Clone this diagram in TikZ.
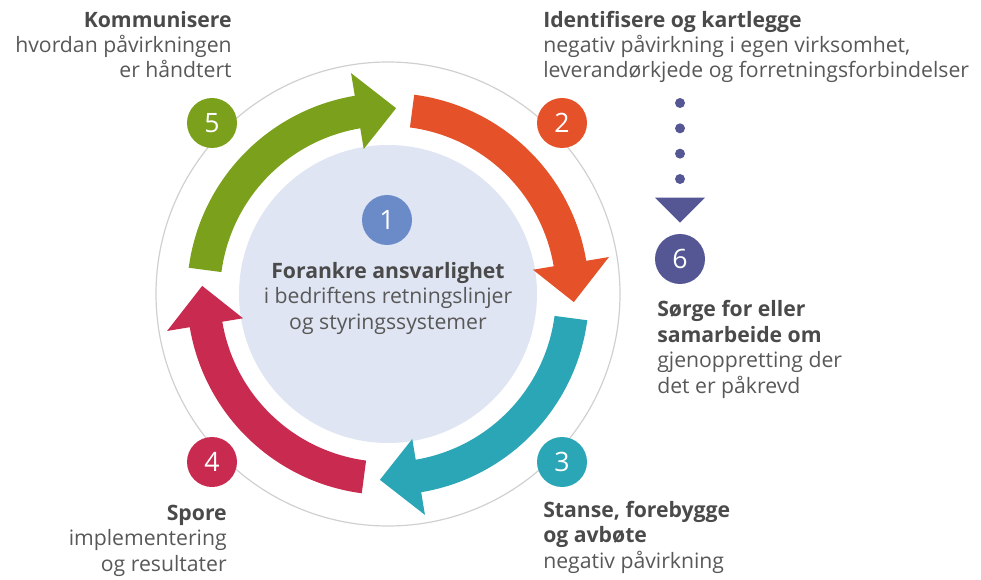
\documentclass[tikz,border=0pt]{standalone}
\usepackage{fontspec}
\setmainfont{Open Sans}

\definecolor{stepgreen}{HTML}{7BA11C}
\definecolor{steporange}{HTML}{E5522A}
\definecolor{stepteal}{HTML}{2AA6B6}
\definecolor{stepred}{HTML}{C92A50}
\definecolor{stepblue}{HTML}{6A8BC8}
\definecolor{steppurple}{HTML}{545793}
\definecolor{corefill}{HTML}{DFE5F2}
\definecolor{ringgray}{HTML}{D0D0D0}
\definecolor{textgray}{HTML}{585858}
\definecolor{headgray}{HTML}{4A4A4A}

\newcommand{\stephead}[1]{{\bfseries\color{headgray}#1}}
% one curved arrow of the cycle: colour, angle of its tail
\newcommand{\cyclearrow}[2]{%
  \fill[#1] (#2:201) arc[start angle=#2, end angle=#2-73, radius=201]
    -- (#2-73:224) -- (#2-85:186) -- (#2-73:147) -- (#2-73:168)
    arc[start angle=#2-73, end angle=#2, radius=168] -- cycle;
}

\tikzset{
  badge/.style={circle, fill=#1, minimum size=37.5pt, inner sep=0pt,
    text=white, font=\fontsize{20}{20}\selectfont},
  steptext/.style={text=textgray, inner sep=0pt,
    font=\fontsize{15.9}{19.1}\selectfont},
}

\begin{document}
\begin{tikzpicture}[x=0.75pt, y=0.75pt]
    \useasboundingbox (0,0) rectangle (981,579);
    \coordinate (c) at (388,285);

    % ring and core
    \draw[ringgray, line width=0.9pt] (c) circle[radius=232];
    \fill[corefill] (c) circle[radius=149];

    % the four arrows
    \begin{scope}[shift={(c)}]
        \cyclearrow{stepgreen}{172.5}
        \cyclearrow{steporange}{82.5}
        \cyclearrow{stepteal}{-7.5}
        \cyclearrow{stepred}{-97.5}
    \end{scope}

    % numbered badges
    \node[badge=stepblue] (n1) at (387,359) {1};
    \node[badge=steporange] (n2) at (562,456) {2};
    \node[badge=stepteal] (n3) at (562,117) {3};
    \node[badge=stepred] (n4) at (212,117) {4};
    \node[badge=stepgreen] (n5) at (212,456) {5};
    \node[badge=steppurple] (n6) at (680,320) {6};

    % texts (base = baseline of the last line)
    \node[steptext, anchor=base, align=center] (t1) at (388,250)
        {\stephead{Forankre ansvarlighet}\\i bedriftens retningslinjer\\og styringssystemer};
    \node[steptext, anchor=base west, align=left] (t2) at (543,501)
        {\stephead{Identifisere og kartlegge}\\negativ påvirkning i egen virksomhet,\\leverandørkjede og forretningsforbindelser};
    \node[steptext, anchor=base west, align=left] (t3) at (543,11)
        {\stephead{Stanse, forebygge}\\\stephead{og avbøte}\\negativ påvirkning};
    \node[steptext, anchor=base east, align=right] (t4) at (227,8)
        {\stephead{Spore}\\implementering\\og resultater};
    \node[steptext, anchor=base east, align=right] (t5) at (232,501)
        {\stephead{Kommunisere}\\hvordan påvirkningen\\er håndtert};
    \node[steptext, anchor=base west, align=left] (t6) at (657,186)
        {\stephead{Sørge for eller}\\\stephead{samarbeide om}\\gjenoppretting der\\det er påkrevd};

    % dotted link from 2 down to 6
    \coordinate (d0) at (680,476);
    \coordinate (d1) at (680,400);
    \draw[steppurple, line width=7.5pt, line cap=round, dash pattern=on 0pt off 19pt] (d0) -- (d1);
    \coordinate (tip) at ([yshift=8.25]n6.north);
    \fill[steppurple] ([shift={(-25,25)}]tip) -- ([shift={(25,25)}]tip) -- (tip) -- cycle;
\end{tikzpicture}
\end{document}
